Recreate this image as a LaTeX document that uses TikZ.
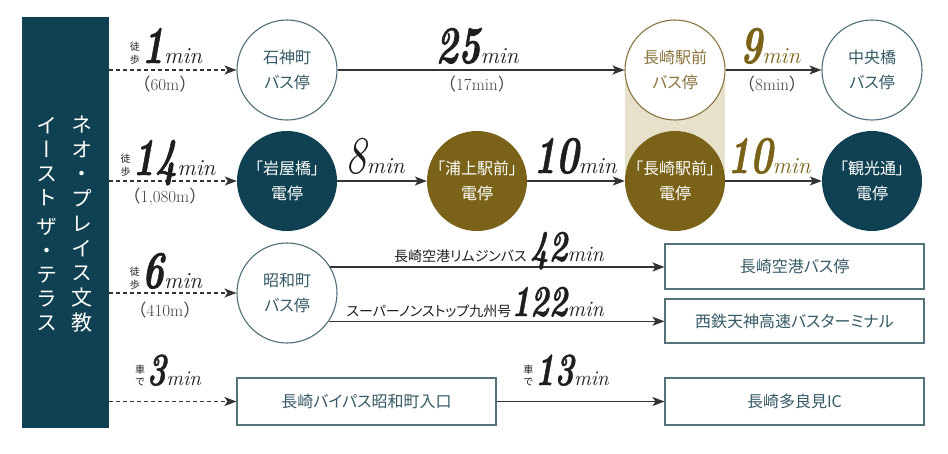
\documentclass[tikz,border=0pt]{standalone}
\usepackage{fontspec}
\usepackage{xcolor}
\usepackage{tikz}
\usetikzlibrary{positioning, arrows.meta}

\newfontfamily\cjk{Noto Sans CJK JP}
\newfontfamily\cjkp[RawFeature=+palt]{Noto Sans CJK JP}
\newfontfamily\cjkv[RawFeature=+vert]{Noto Sans CJK JP}
\newfontfamily\numfont[FakeBold=1.2]{lmroman10-bolditalic.otf}

\definecolor{nteal}{HTML}{0F4152}
\definecolor{ngold}{HTML}{7A6318}
\definecolor{hubgold}{HTML}{8A7440}
\definecolor{hubbeige}{HTML}{E7E0CB}
\definecolor{stopline}{HTML}{4F6E78}
\definecolor{stoptext}{HTML}{355A66}
\definecolor{boxline}{HTML}{55717A}
\definecolor{linegray}{HTML}{333333}
\definecolor{numblack}{HTML}{1E1E1E}
\definecolor{distgray}{HTML}{444444}

\newcommand{\bignum}[2][53]{{\fontsize{#1}{#1}\selectfont\numfont\scalebox{0.72}[1]{#2}}}
\newcommand{\thinnum}[2][53]{{\fontsize{#1}{#1}\selectfont\itshape\scalebox{0.8}[1]{#2}}}
\newcommand{\minu}[1][23]{{\fontsize{#1}{#1}\selectfont\itshape min}}
\newcommand{\smallstk}[2]{{\cjk\fontsize{10}{10}\selectfont\shortstack{#1\\#2}}\,}
\newcommand{\distp}[1]{{\cjk （}#1{\cjk ）}}

\begin{document}
\begin{tikzpicture}[x=1pt, y=-1pt,
  stopnode/.style={circle, minimum size=100pt, inner sep=0pt, align=center,
    font=\cjkp\fontsize{16}{25}\selectfont},
  busstop/.style={stopnode, draw=stopline, line width=1.1pt, fill=white, text=stoptext},
  tramstop/.style={stopnode, fill=nteal, text=white},
  destbox/.style={draw=boxline, line width=1.1pt, fill=white, minimum width=259pt,
    minimum height=45pt, inner sep=0pt, text=stoptext, font=\cjkp\fontsize{16}{16}\selectfont},
  rideline/.style={draw=linegray, line width=1.2pt, -{Stealth[length=12pt,width=9pt,inset=3pt]}},
  walkline/.style={rideline, dash pattern=on 4pt off 3pt},
  timelbl/.style={anchor=base, inner sep=0pt, text=numblack},
  distlbl/.style={inner sep=0pt, text=distgray, font=\fontsize{17}{17}\selectfont},
  hdrtext/.style={inner sep=0pt, align=center, text=white, font=\cjkv\fontsize{21}{24.75}\selectfont}]

\fill[white] (0,0) rectangle (948,453);
\useasboundingbox (0,0) rectangle (948,453);

% property name
\node[fill=nteal, minimum width=87pt, minimum height=411pt, inner sep=0pt] (hdr) at (65.5,222.5) {};
\node[hdrtext] (hdrR) at (82,224) {ネ\\オ\\・\\プ\\レ\\イ\\ス\\文\\教};
\node[hdrtext, font=\cjkv\fontsize{21}{23.8}\selectfont] (hdrL) at (47,224) {イ\\ー\\ス\\ト\\[6pt]ザ\\・\\テ\\ラ\\ス};

% stops
\node[busstop] (ishi) at (287,70) {石神町\\バス停};
\node[busstop] (chuo) at (872,70) {中央橋\\バス停};
\node[tramstop] (iwaya) at (287,181) {「岩屋橋」\\電停};
\node[tramstop, fill=ngold] (urakami) at (477,181) {「浦上駅前」\\電停};
\node[tramstop] (kanko) at (872,181) {「観光通」\\電停};
\node[busstop] (showa) at (287,293) {昭和町\\バス停};

% Nagasaki station: bus + tram
\fill[hubbeige] (625,70) rectangle (725,181);
\node[busstop, draw=hubgold, text=hubgold] (nagabus) at (675,70) {長崎駅前\\バス停};
\node[tramstop, fill=ngold] (nagatram) at (675,181) {「長崎駅前」\\電停};

\node[destbox] (airport) at (794.5,266.5) {長崎空港バス停};
\node[destbox, minimum height=44pt] (tenjin) at (794.5,321) {西鉄天神高速バスターミナル};
\node[destbox, minimum height=47pt] (bypass) at (366.5,401.5) {長崎バイパス昭和町入口};
\node[destbox, minimum height=47pt] (tarami) at (794.5,401.5) {長崎多良見IC};

% walking / driving from the property
\draw[walkline] (hdr.east |- ishi.west) -- (ishi.west);
\draw[walkline] (hdr.east |- iwaya.west) -- (iwaya.west);
\draw[walkline] (hdr.east |- showa.west) -- (showa.west);
\draw[walkline] (hdr.east |- bypass.west) -- (bypass.west);

\node[timelbl] (w1) at (166,63) {\smallstk{徒}{歩}\bignum{1}\minu};
\node[distlbl] (d1) at (165,84) {\distp{60m}};
\node[timelbl] (w2) at (168,175) {\smallstk{徒}{歩}\bignum{14}\minu};
\node[distlbl] (d2) at (165,197) {\distp{1,080m}};
\node[timelbl] (w3) at (166,288) {\smallstk{徒}{歩}\bignum{6}\minu};
\node[distlbl] (d3) at (165,310) {\distp{410m}};
\node[timelbl] (w4) at (168,385) {\smallstk{車}{で}\bignum[46]{3}\minu[21]};

% bus and tram
\draw[rideline] (ishi) -- (nagabus);
\draw[rideline] (nagabus) -- (chuo);
\draw[rideline] (iwaya) -- (urakami);
\draw[rideline] (urakami) -- (nagatram);
\draw[rideline] (nagatram) -- (kanko);
\draw[rideline] (showa.31) -- (showa.31 -| airport.west);
\draw[rideline] (showa.-34) -- (showa.-34 -| tenjin.west);
\draw[rideline] (bypass) -- (tarami);

\node[timelbl] (r1) at (477,63) {\bignum{25}\minu};
\node[distlbl] (r1d) at (477,84) {\distp{17min}};
\node[timelbl, text=ngold] (r2) at (770,63) {\bignum{9}\minu};
\node[distlbl] (r2d) at (772,84) {\distp{8min}};
\node[timelbl] (r3) at (375,173) {\thinnum{8}\minu};
\node[timelbl] (r4) at (575,173) {\bignum{10}\minu};
\node[timelbl, text=ngold] (r5) at (769,173) {\bignum{10}\minu};
\node[timelbl, anchor=base east] (r6) at (604,261) {{\cjkp\fontsize{14}{14}\selectfont 長崎空港リムジンバス} \bignum[44]{42}\minu[22]};
\node[timelbl, anchor=base east] (r7) at (604,316) {{\cjkp\fontsize{14}{14}\selectfont スーパーノンストップ九州号}\bignum[44]{122}\minu[22]};
\node[timelbl] (r8) at (566,385) {\smallstk{車}{で}\bignum[46]{13}\minu[21]};
\end{tikzpicture}
\end{document}
